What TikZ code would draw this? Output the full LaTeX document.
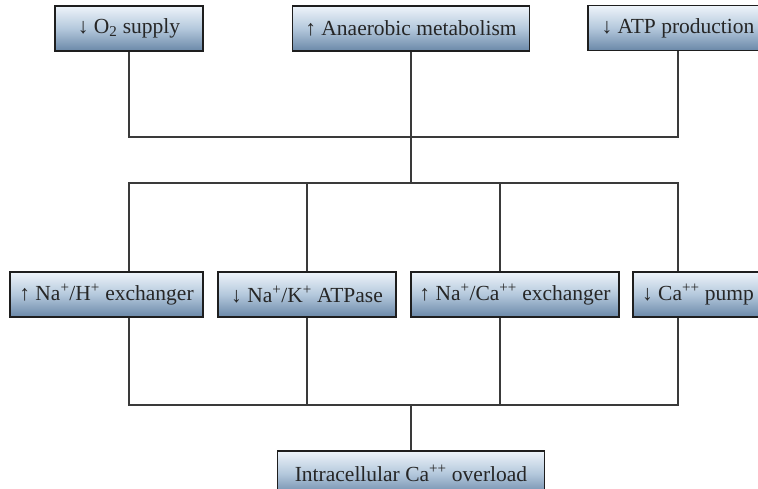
\documentclass[tikz,border=0pt]{standalone}
\usepackage{fontspec}
\setmainfont{Liberation Serif}
\definecolor{boxtop}{HTML}{EEF4FA}
\definecolor{boxmid}{HTML}{B4C8DC}
\definecolor{boxbot}{HTML}{6A88A8}
\definecolor{edge}{HTML}{1E1E1E}
\definecolor{wire}{HTML}{3A3A3A}
\tikzset{
  fbox/.style={rectangle, draw=edge, line width=1.1pt, top color=boxtop, bottom color=boxbot, middle color=boxmid,
    minimum height=45pt, inner sep=0pt, font=\fontsize{21.5}{25}\selectfont, text=black!85},
  wireline/.style={draw=wire, line width=1.3pt}
}
\begin{document}
\begin{tikzpicture}[x=1pt,y=-1pt]
\useasboundingbox (0,0) rectangle (758,488);
\clip (0,0) rectangle (758,488);
% top row
\node[fbox, minimum width=148pt] (o2) at (129,28.5) {↓ O\textsubscript{2} supply};
\node[fbox, minimum width=237pt] (ana) at (411,28.5) {↑ Anaerobic metabolism};
\node[fbox, minimum width=180pt] (atp) at (678,28) {↓ ATP production};
% middle row
\node[fbox, minimum width=193pt] (nah) at (106.5,294.5) {↑ Na\textsuperscript{+}/H\textsuperscript{+} exchanger};
\node[fbox, minimum width=178pt] (nak) at (307,294.5) {↓ Na\textsuperscript{+}/K\textsuperscript{+} ATPase};
\node[fbox, minimum width=208pt] (naca) at (515,294.5) {↑ Na\textsuperscript{+}/Ca\textsuperscript{++} exchanger};
\node[fbox, minimum width=130pt] (cap) at (698,294.5) {↓ Ca\textsuperscript{++} pump};
% bottom
\node[fbox, minimum width=267pt] (over) at (411,473.5) {Intracellular Ca\textsuperscript{++} overload};
% junction coordinates
\coordinate (j1) at (411,137);
\coordinate (j2) at (411,183);
\coordinate (j3) at (411,405);
\coordinate (x1) at (129,0);
\coordinate (x2) at (307,0);
\coordinate (x3) at (500,0);
\coordinate (x4) at (678,0);
% top merge
\draw[wireline] (o2.south) -- (o2.south |- j1) -- (atp.south |- j1) -- (atp.south);
\draw[wireline] (ana.south) -- (ana.south |- j2);
% split
\draw[wireline] (x1 |- nah.north) -- (x1 |- j2) -- (x4 |- j2) -- (x4 |- cap.north);
\draw[wireline] (x2 |- j2) -- (x2 |- nak.north);
\draw[wireline] (x3 |- j2) -- (x3 |- naca.north);
% lower merge
\draw[wireline] (x1 |- nah.south) -- (x1 |- j3) -- (x4 |- j3) -- (x4 |- cap.south);
\draw[wireline] (x2 |- nak.south) -- (x2 |- j3);
\draw[wireline] (x3 |- naca.south) -- (x3 |- j3);
\draw[wireline] (j3) -- (over.north);
\end{tikzpicture}
\end{document}
